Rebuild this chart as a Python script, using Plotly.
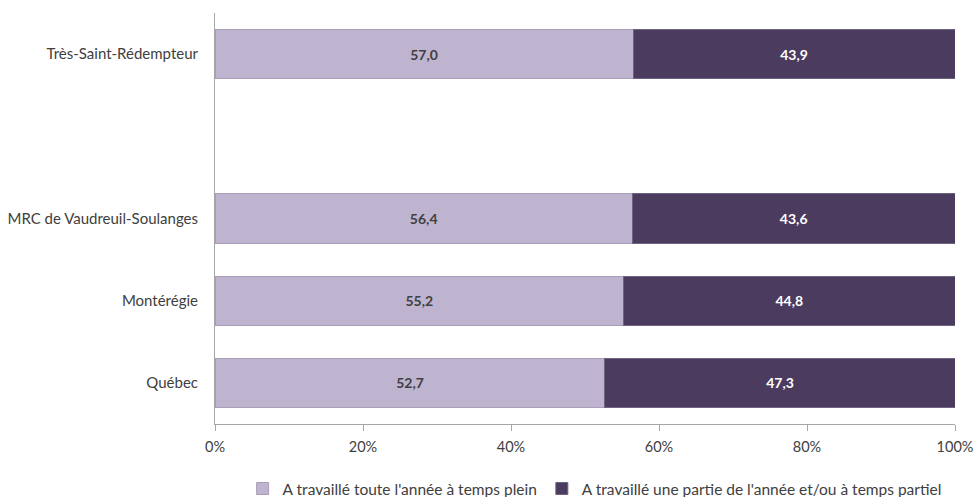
import plotly.graph_objects as go

categories = ["Très-Saint-Rédempteur", " ", "MRC de Vaudreuil-Soulanges", "Montérégie", "Québec"]
plein = [57.0, None, 56.4, 55.2, 52.7]
partiel = [43.9, None, 43.6, 44.8, 47.3]
series_names = ["A travaillé toute l'année à temps plein",
                "A travaillé une partie de l'année et/ou à temps partiel"]
x_ticks = [0, 20, 40, 60, 80, 100]

def fmt(v):
    return "" if v is None else f"{v:.1f}".replace(".", ",")

font_family = "Lato, 'Open Sans', sans-serif"

fig = go.Figure()
fig.add_trace(go.Bar(
    y=categories, x=plein, orientation="h", name=series_names[0],
    marker=dict(color="#BFB4D0", line=dict(color="#A89FB7", width=1)),
    text=[fmt(v) for v in plein], textposition="inside", insidetextanchor="middle",
    textangle=0, textfont=dict(color="#404040", size=14, family=font_family, weight="bold"),
))
fig.add_trace(go.Bar(
    y=categories, x=partiel, orientation="h", name=series_names[1],
    marker=dict(color="#4B3B5F", line=dict(color="#6E6480", width=1)),
    text=[fmt(v) for v in partiel], textposition="inside", insidetextanchor="middle",
    textangle=0, textfont=dict(color="#FFFFFF", size=14, family=font_family, weight="bold"),
))

fig.update_layout(
    barmode="stack", barnorm="percent", bargap=0.4,
    width=975, height=497,
    margin=dict(l=215, r=20, t=13, b=73, autoexpand=False),
    plot_bgcolor="white", paper_bgcolor="white",
    font=dict(family=font_family, size=15, color="#404040"),
    showlegend=True,
    legend=dict(orientation="h", x=0.513, xanchor="center", y=-0.158, yanchor="middle",
                bgcolor="rgba(0,0,0,0)",
                font=dict(size=15.5, color="#404040"), traceorder="normal",
                itemwidth=30, tracegroupgap=0),
    uniformtext=dict(minsize=8, mode="show"),
)
fig.update_xaxes(
    range=[0, 100], tickvals=x_ticks, ticktext=[f"{t}%" for t in x_ticks],
    showgrid=False, zeroline=False, showline=True, linecolor="#A6A6A6", linewidth=1,
    ticks="outside", ticklen=6, tickcolor="#A6A6A6", automargin=False,
    ticklabelstandoff=4,
    tickfont=dict(size=14.5, color="#404040"),
)
fig.update_yaxes(
    categoryorder="array", categoryarray=categories, autorange="reversed",
    showgrid=False, zeroline=False, showline=True, linecolor="#A6A6A6", linewidth=1,
    ticks="", ticklabelstandoff=13, automargin=False,
    tickfont=dict(size=15, color="#404040"),
)

fig.write_html(
    "out.html",
    config={"displayModeBar": False},
    post_script="document.body.style.margin='0';document.body.style.overflow='hidden';",
)
